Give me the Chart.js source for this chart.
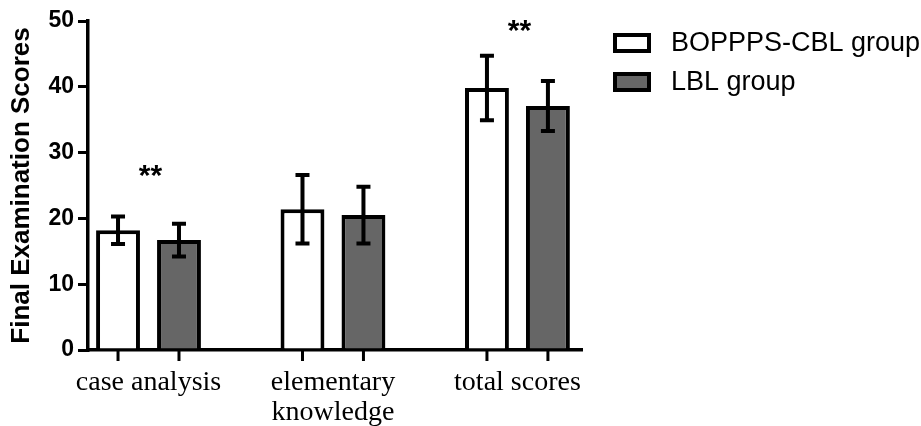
<!DOCTYPE html>
<html>
<head>
<meta charset="utf-8">
<script src="https://cdn.jsdelivr.net/npm/chart.js@4/dist/chart.umd.min.js"></script>
<style>
  html, body { margin: 0; padding: 0; background: #fff; }
  #wrap { width: 921px; height: 426px; }
</style>
</head>
<body>
<div id="wrap"><canvas id="bar-chart"></canvas></div>
<script>
var categories = ["case analysis", "elementary knowledge", "total scores"];
var tickLabels = [["case analysis"], ["elementary", "knowledge"], ["total scores"]];
var seriesNames = ["BOPPPS-CBL group", "LBL group"];
var cblMeans = [18.2, 21.4, 39.8];
var cblSD = [2.1, 5.2, 4.9];
var lblMeans = [16.7, 20.5, 37.1];
var lblSD = [2.5, 4.3, 3.8];
var significance = ["**", "", "**"];
var sigLevel = [26.7, null, 48.6];
var yTicks = [0, 10, 20, 30, 40, 50];

var SANS = "'Liberation Sans', Arial, sans-serif";
var SERIF = "'Liberation Serif', 'Times New Roman', serif";

function toPoints(values) {
  return values.map(function (v, i) { return { x: i, y: v }; });
}

// error bars, ** marks, tick marks under each bar, and the legend on the right
var extras = {
  id: "extras",
  afterDatasetsDraw: function (chart) {
    var ctx = chart.ctx;
    var xs = chart.scales.x, ys = chart.scales.y;
    var sds = [cblSD, lblSD];
    var means = [cblMeans, lblMeans];
    ctx.save();
    ctx.strokeStyle = "#000";
    ctx.lineCap = "butt";
    chart.data.datasets.forEach(function (ds, d) {
      var meta = chart.getDatasetMeta(d);
      meta.data.forEach(function (bar, i) {
        var top = ys.getPixelForValue(means[d][i] + sds[d][i]);
        var bot = ys.getPixelForValue(means[d][i] - sds[d][i]);
        ctx.lineWidth = 4;
        ctx.beginPath();
        ctx.moveTo(bar.x, top); ctx.lineTo(bar.x, bot);
        ctx.moveTo(bar.x - 7, top); ctx.lineTo(bar.x + 7, top);
        ctx.moveTo(bar.x - 7, bot); ctx.lineTo(bar.x + 7, bot);
        ctx.stroke();
        ctx.lineWidth = 3;
        ctx.beginPath();
        ctx.moveTo(bar.x, ys.bottom); ctx.lineTo(bar.x, ys.bottom + 11);
        ctx.stroke();
      });
    });
    ctx.fillStyle = "#000";
    ctx.font = "bold 30px " + SANS;
    ctx.textAlign = "center";
    ctx.textBaseline = "middle";
    significance.forEach(function (s, i) {
      if (!s) return;
      ctx.fillText(s, xs.getPixelForValue(i) + 2, ys.getPixelForValue(sigLevel[i]) + 2);
    });

    // legend
    var lx = chart.chartArea.right + 31;
    ctx.font = "27px " + SANS;
    ctx.textAlign = "left";
    chart.data.datasets.forEach(function (ds, d) {
      var cy = 43 + d * 39;
      ctx.fillStyle = ds.backgroundColor;
      ctx.fillRect(lx + 2, cy - 8, 34, 16);
      ctx.lineWidth = 4;
      ctx.strokeStyle = "#000";
      ctx.strokeRect(lx + 2, cy - 8, 34, 16);
      ctx.fillStyle = "#000";
      ctx.fillText(ds.label, lx + 58, cy + 1);
    });
    ctx.restore();
  }
};

var CHART = document.getElementById("bar-chart");
var barChart = new Chart(CHART, {
  type: "bar",
  data: {
    datasets: [{
      label: seriesNames[0],
      data: toPoints(cblMeans),
      backgroundColor: "#ffffff",
      borderColor: "#000000",
      borderWidth: 4
    }, {
      label: seriesNames[1],
      data: toPoints(lblMeans),
      backgroundColor: "#666666",
      borderColor: "#000000",
      borderWidth: 4
    }]
  },
  options: {
    responsive: true,
    maintainAspectRatio: false,
    animation: false,
    categoryPercentage: 0.661,
    barPercentage: 0.72,
    layout: { padding: { top: 21, left: 0, right: 339, bottom: 0 } },
    plugins: {
      tooltip: { enabled: false },
      legend: { display: false }
    },
    scales: {
      x: {
        type: "linear",
        offset: false,
        min: -0.328,
        max: 2.35,
        afterFit: function (s) { s.height = 76; },
        grid: { display: false, drawTicks: false },
        border: { display: true, color: "#000", width: 3.5 },
        ticks: {
          stepSize: 1,
          includeBounds: false,
          autoSkip: false,
          maxRotation: 0,
          padding: 18,
          color: "#000",
          font: { family: SERIF, size: 28, lineHeight: 1.07 },
          callback: function (v) { return Number.isInteger(v) ? tickLabels[v] : ""; }
        }
      },
      y: {
        min: 0,
        max: 50,
        afterFit: function (s) { s.width = 88; },
        grid: { drawOnChartArea: false, drawTicks: true, tickLength: 10, color: "#000", lineWidth: 3 },
        border: { display: true, color: "#000", width: 3.5 },
        afterBuildTicks: function (s) { s.ticks = yTicks.map(function (v) { return { value: v }; }); },
        ticks: {
          padding: 4,
          color: "#000",
          font: { family: SANS, size: 23, weight: "bold" }
        },
        title: {
          display: true,
          text: "Final Examination Scores",
          color: "#000",
          font: { family: SANS, size: 26, weight: "bold" },
          padding: { top: 6, bottom: 0 }
        }
      }
    }
  },
  plugins: [extras]
});
</script>
</body>
</html>
